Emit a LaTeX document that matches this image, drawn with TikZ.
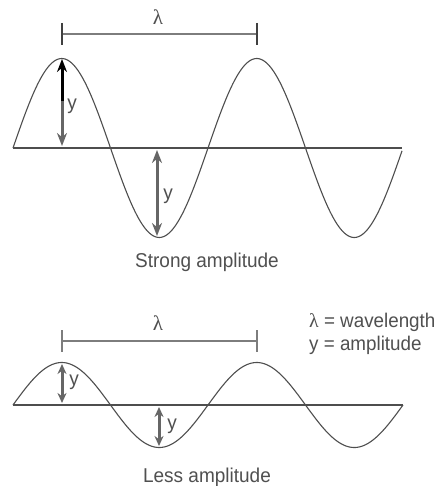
\documentclass[tikz,border=0pt]{standalone}
\usepackage{fontspec}
\setmainfont{Liberation Sans}[FakeStretch=0.95]
\newfontfamily\lamfont{Liberation Serif}
\usetikzlibrary{arrows.meta}
\definecolor{wavec}{HTML}{4E4E4E}
\definecolor{arrc}{HTML}{666666}
\definecolor{txtc}{HTML}{505050}
\begin{document}
\begin{tikzpicture}[x=1pt,y=-1pt,
  wave/.style={draw=wavec,line width=1.1pt},
  axis/.style={draw=wavec,line width=1.4pt},
  bar/.style={draw=arrc!85,line width=1.7pt},
  amparrow/.style={draw=arrc,line width=3pt,{Stealth[length=13pt,width=10pt]}-{Stealth[length=13pt,width=10pt]}},
  smallarrow/.style={draw=arrc,line width=3pt,{Stealth[length=10pt,width=9pt]}-{Stealth[length=10pt,width=9pt]}},
  lbl/.style={text=txtc,font=\fontsize{20}{24}\selectfont,inner sep=0pt},
  leg/.style={text=txtc,font=\fontsize{19.8}{23}\selectfont,inner sep=0pt},
  lam/.style={text=txtc,font=\lamfont\fontsize{21}{24}\selectfont,inner sep=0pt}
]
\useasboundingbox (0,0) rectangle (438,486);
\fill[white] (0,0) rectangle (438,486);

% ---------- top wave (strong amplitude) ----------
\coordinate (ta) at (13,148);
\coordinate (tb) at (402,148);
\draw[axis] (ta) -- (tb);
\draw[wave] plot[domain=13:402,samples=240,smooth] (\x,{148-89.5*sin(1.846154*(\x-13))});

% wavelength bar
\coordinate (tl1) at (62,34);
\coordinate (tl2) at (257,34);
\coordinate (tl1u) at (62,23);
\coordinate (tl1d) at (62,45);
\coordinate (tl2u) at (257,23);
\coordinate (tl2d) at (257,45);
\draw[bar] (tl1) -- (tl2);
\draw[draw=black!75,line width=1.7pt] (tl1u) -- (tl1d);
\draw[draw=black!75,line width=1.7pt] (tl2u) -- (tl2d);
\node[lam] (tlam) at (158,17) {λ};

% amplitude arrows
\coordinate (pa) at (62,59);
\coordinate (pm) at (62,101);
\coordinate (pb) at (62,146);
\draw[draw=black,line width=3pt,-{Stealth[length=13pt,width=10pt]}] (pm) -- (pa);
\draw[draw=arrc,line width=3pt,-{Stealth[length=13pt,width=10pt]}] (pm) -- (pb);
\node[lbl] (ty1) at (72,106) {y};

\coordinate (qa) at (157,150);
\coordinate (qb) at (157,236);
\draw[amparrow] (qa) -- (qb);
\node[lbl] (ty2) at (168,196) {y};

\node[lbl] (strong) at (207,262) {Strong amplitude};

% ---------- bottom wave (less amplitude) ----------
\coordinate (ba) at (13,405);
\coordinate (bb) at (403,405);
\draw[axis] (ba) -- (bb);
\draw[wave] plot[domain=13:403,samples=240,smooth] (\x,{405-42.5*sin(1.846154*(\x-13))});

\coordinate (bl1) at (62,341);
\coordinate (bl2) at (257,341);
\coordinate (bl1u) at (62,330);
\coordinate (bl1d) at (62,352);
\coordinate (bl2u) at (257,330);
\coordinate (bl2d) at (257,352);
\draw[bar] (bl1) -- (bl2);
\draw[bar] (bl1u) -- (bl1d);
\draw[bar] (bl2u) -- (bl2d);
\node[lam] (blam) at (158,323) {λ};

\coordinate (ra) at (62,364);
\coordinate (rb) at (62,403);
\draw[smallarrow] (ra) -- (rb);
\node[lbl] (by1) at (74,382) {y};

\coordinate (sa) at (159,407);
\coordinate (sb) at (159,446);
\draw[smallarrow] (sa) -- (sb);
\node[lbl] (by2) at (172,426) {y};

\node[lbl] (less) at (207,477) {Less amplitude};

% legend
\node[leg,anchor=west] (leg1) at (309,322) {{\lamfont λ} = wavelength};
\node[leg,anchor=west] (leg2) at (309,345) {y = amplitude};
\end{tikzpicture}
\end{document}
